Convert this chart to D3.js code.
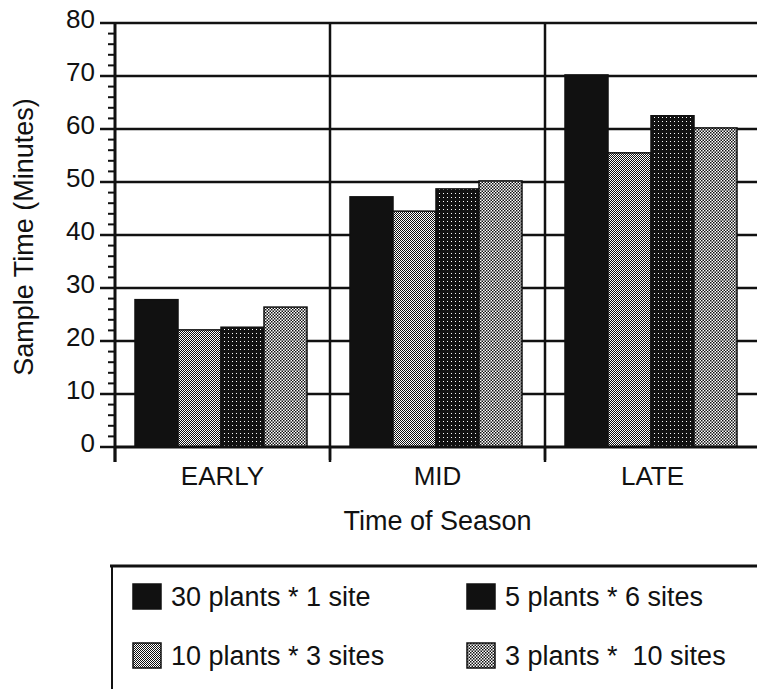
<!DOCTYPE html>
<html>
<head>
<meta charset="utf-8">
<script src="https://cdn.jsdelivr.net/npm/d3@7"></script>
<style>
  body { margin: 0; background: #fff; }
  svg text { font-family: "Liberation Sans", Arial, sans-serif; fill: #111; white-space: pre; }
</style>
</head>
<body>
<div id="chart"></div>
<script>
// values (minutes)
var seasons = ["EARLY", "MID", "LATE"];
var seriesNames = ["30 plants * 1 site", "10 plants * 3 sites", "5 plants * 6 sites", "3 plants *  10 sites"];
var plants30 = [27.8, 47.2, 70.2];
var plants10 = [22.1, 44.5, 55.5];
var plants5 = [22.6, 48.7, 62.5];
var plants3 = [26.4, 50.2, 60.2];
var yTicks = [0, 10, 20, 30, 40, 50, 60, 70, 80];

var series = [plants30, plants10, plants5, plants3];
var fills = ["#111", "url(#light)", "url(#dark)", "url(#light2)"];

var width = 757, height = 689;
var svg = d3.select("#chart").append("svg")
	.attr("width", width)
	.attr("height", height);

// patterns that mimic the old print screens
var defs = svg.append("defs");
var light = defs.append("pattern").attr("id", "light")
	.attr("width", 2).attr("height", 2).attr("patternUnits", "userSpaceOnUse");
light.append("rect").attr("width", 2).attr("height", 2).attr("fill", "#fff");
light.append("rect").attr("width", 1).attr("height", 1).attr("fill", "#111");
light.append("rect").attr("x", 1).attr("y", 1).attr("width", 1).attr("height", 1).attr("fill", "#111");

var light2 = defs.append("pattern").attr("id", "light2")
	.attr("width", 3).attr("height", 3).attr("patternUnits", "userSpaceOnUse");
light2.append("rect").attr("width", 3).attr("height", 3).attr("fill", "#fff");
light2.append("rect").attr("width", 1.5).attr("height", 1.5).attr("fill", "#111");
light2.append("rect").attr("x", 1.5).attr("y", 1.5).attr("width", 1.5).attr("height", 1.5).attr("fill", "#111");

var dark = defs.append("pattern").attr("id", "dark")
	.attr("width", 4).attr("height", 4).attr("patternUnits", "userSpaceOnUse");
dark.append("rect").attr("width", 4).attr("height", 4).attr("fill", "#111");
dark.append("rect").attr("x", 1).attr("y", 1).attr("width", 1).attr("height", 1).attr("fill", "#fff");

var x = d3.scaleBand().domain(seasons).range([115, 760]);
var xs = d3.scaleBand().domain(d3.range(series.length)).range([20, 192]);
var y = d3.scaleLinear().domain([0, 80]).range([447, 23]);

// horizontal grid
svg.append("g").selectAll("line")
	.data(yTicks.filter(function(d){ return d > 0; }))
	.enter().append("line")
	.attr("x1", 115).attr("x2", width)
	.attr("y1", function(d){ return y(d); })
	.attr("y2", function(d){ return y(d); })
	.attr("stroke", "#111").attr("stroke-width", 2.5);

// vertical dividers between seasons
svg.append("g").selectAll("line")
	.data(seasons.slice(1))
	.enter().append("line")
	.attr("x1", function(d){ return x(d); })
	.attr("x2", function(d){ return x(d); })
	.attr("y1", y(80)).attr("y2", 460)
	.attr("stroke", "#111").attr("stroke-width", 2.5);

// bars
var groups = svg.append("g").selectAll("g")
	.data(seasons)
	.enter().append("g")
	.attr("transform", function(d){ return "translate(" + x(d) + ",0)"; });

groups.selectAll("rect")
	.data(function(d, i){ return series.map(function(s, k){ return {k: k, v: s[i]}; }); })
	.enter().append("rect")
	.attr("x", function(d){ return xs(d.k); })
	.attr("width", xs.bandwidth())
	.attr("y", function(d){ return y(d.v); })
	.attr("height", function(d){ return y(0) - y(d.v); })
	.attr("fill", function(d){ return fills[d.k]; })
	.attr("stroke", "#111").attr("stroke-width", 1.5);

// baseline
svg.append("line")
	.attr("x1", 115).attr("x2", width)
	.attr("y1", y(0)).attr("y2", y(0))
	.attr("stroke", "#111").attr("stroke-width", 3);

// y axis with minor ticks every 2 minutes
var yAxis = svg.append("g").attr("transform", "translate(115,0)");
yAxis.append("line")
	.attr("x1", 0).attr("x2", 0)
	.attr("y1", y(80)).attr("y2", 462)
	.attr("stroke", "#111").attr("stroke-width", 3);
yAxis.selectAll(".minor")
	.data(d3.range(0, 81, 2))
	.enter().append("line")
	.attr("class", "minor")
	.attr("x1", -7).attr("x2", 0)
	.attr("y1", function(d){ return y(d); })
	.attr("y2", function(d){ return y(d); })
	.attr("stroke", "#111").attr("stroke-width", 2);
yAxis.selectAll(".major")
	.data(yTicks)
	.enter().append("line")
	.attr("class", "major")
	.attr("x1", -15).attr("x2", 0)
	.attr("y1", function(d){ return y(d); })
	.attr("y2", function(d){ return y(d); })
	.attr("stroke", "#111").attr("stroke-width", 2.5);
yAxis.selectAll("text")
	.data(yTicks)
	.enter().append("text")
	.attr("x", -20)
	.attr("y", function(d){ return y(d) + 5; })
	.attr("text-anchor", "end")
	.style("font-size", "26px")
	.text(function(d){ return d; });

// x ticks below baseline
svg.append("g").selectAll("line")
	.data(seasons)
	.enter().append("line")
	.attr("x1", function(d){ return x(d); })
	.attr("x2", function(d){ return x(d); })
	.attr("y1", y(0)).attr("y2", 462)
	.attr("stroke", "#111").attr("stroke-width", 2.5);

svg.append("g").selectAll("text")
	.data(seasons)
	.enter().append("text")
	.attr("x", function(d){ return x(d) + x.bandwidth() / 2; })
	.attr("y", 485)
	.attr("text-anchor", "middle")
	.style("font-size", "26px")
	.text(function(d){ return d; });

svg.append("text")
	.attr("x", x("MID") + x.bandwidth() / 2)
	.attr("y", 530)
	.attr("text-anchor", "middle")
	.style("font-size", "27px")
	.text("Time of Season");

svg.append("text")
	.attr("transform", "translate(33,237) rotate(-90)")
	.attr("text-anchor", "middle")
	.style("font-size", "27px")
	.text("Sample Time (Minutes)");

// legend box, only top and left edges show
var legend = svg.append("g");
legend.append("line")
	.attr("x1", 110).attr("x2", width).attr("y1", 566).attr("y2", 566)
	.attr("stroke", "#111").attr("stroke-width", 3);
legend.append("line")
	.attr("x1", 112).attr("x2", 112).attr("y1", 566).attr("y2", height)
	.attr("stroke", "#111").attr("stroke-width", 2);

var legendFills = ["#111", "url(#light)", "#111", "url(#light2)"];
var legendPos = [[133, 584], [133, 643], [467, 584], [467, 643]];
var items = legend.selectAll(".item")
	.data(seriesNames)
	.enter().append("g")
	.attr("class", "item")
	.attr("transform", function(d, i){ return "translate(" + legendPos[i][0] + "," + legendPos[i][1] + ")"; });
items.append("rect")
	.attr("width", 28).attr("height", 25)
	.attr("fill", function(d, i){ return legendFills[i]; })
	.attr("stroke", "#111").attr("stroke-width", 1.5);
items.append("text")
	.attr("x", 38).attr("y", 22)
	.style("font-size", "27px")
	.text(function(d){ return d; });
</script>
</body>
</html>
